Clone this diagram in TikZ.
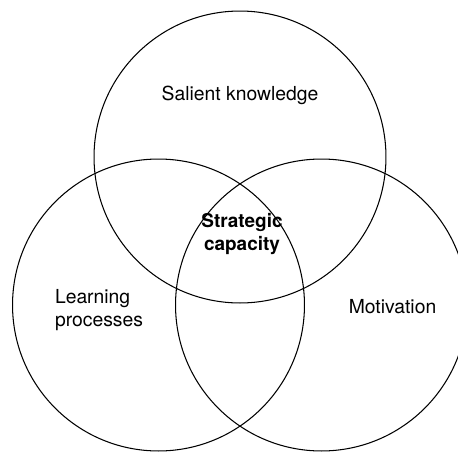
\documentclass[tikz,border=0pt]{standalone}
\usepackage{fontspec}
\setmainfont{TeX Gyre Heros}

\begin{document}
\begin{tikzpicture}[
    x=0.02cm, y=-0.02cm,
    set/.style={
        circle, draw=black, line width=0.6pt,
        minimum size=5.84cm, inner sep=0pt
    },
    lbl/.style={
        font=\fontsize{11}{13.5}\selectfont, align=center, inner sep=0pt
    }
]
\useasboundingbox (0,0) rectangle (458,454);
\clip (0,0) rectangle (458,454);

% --- Sets ---
\node[set] (know) at (240,157) {};
\node[set] (learn) at (158.5,305) {};
\node[set] (motiv) at (321.5,305) {};

% --- Labels ---
\node[lbl] (knowtxt) at (240,95) {Salient knowledge};
\node[lbl, align=left] (learntxt) at (99,310) {Learning\\processes};
\node[lbl] (motivtxt) at (392.5,307) {Motivation};
\node[lbl, font=\fontsize{10.8}{13.5}\selectfont\bfseries] (core) at (242,234) {Strategic\\capacity};

\end{tikzpicture}
\end{document}
